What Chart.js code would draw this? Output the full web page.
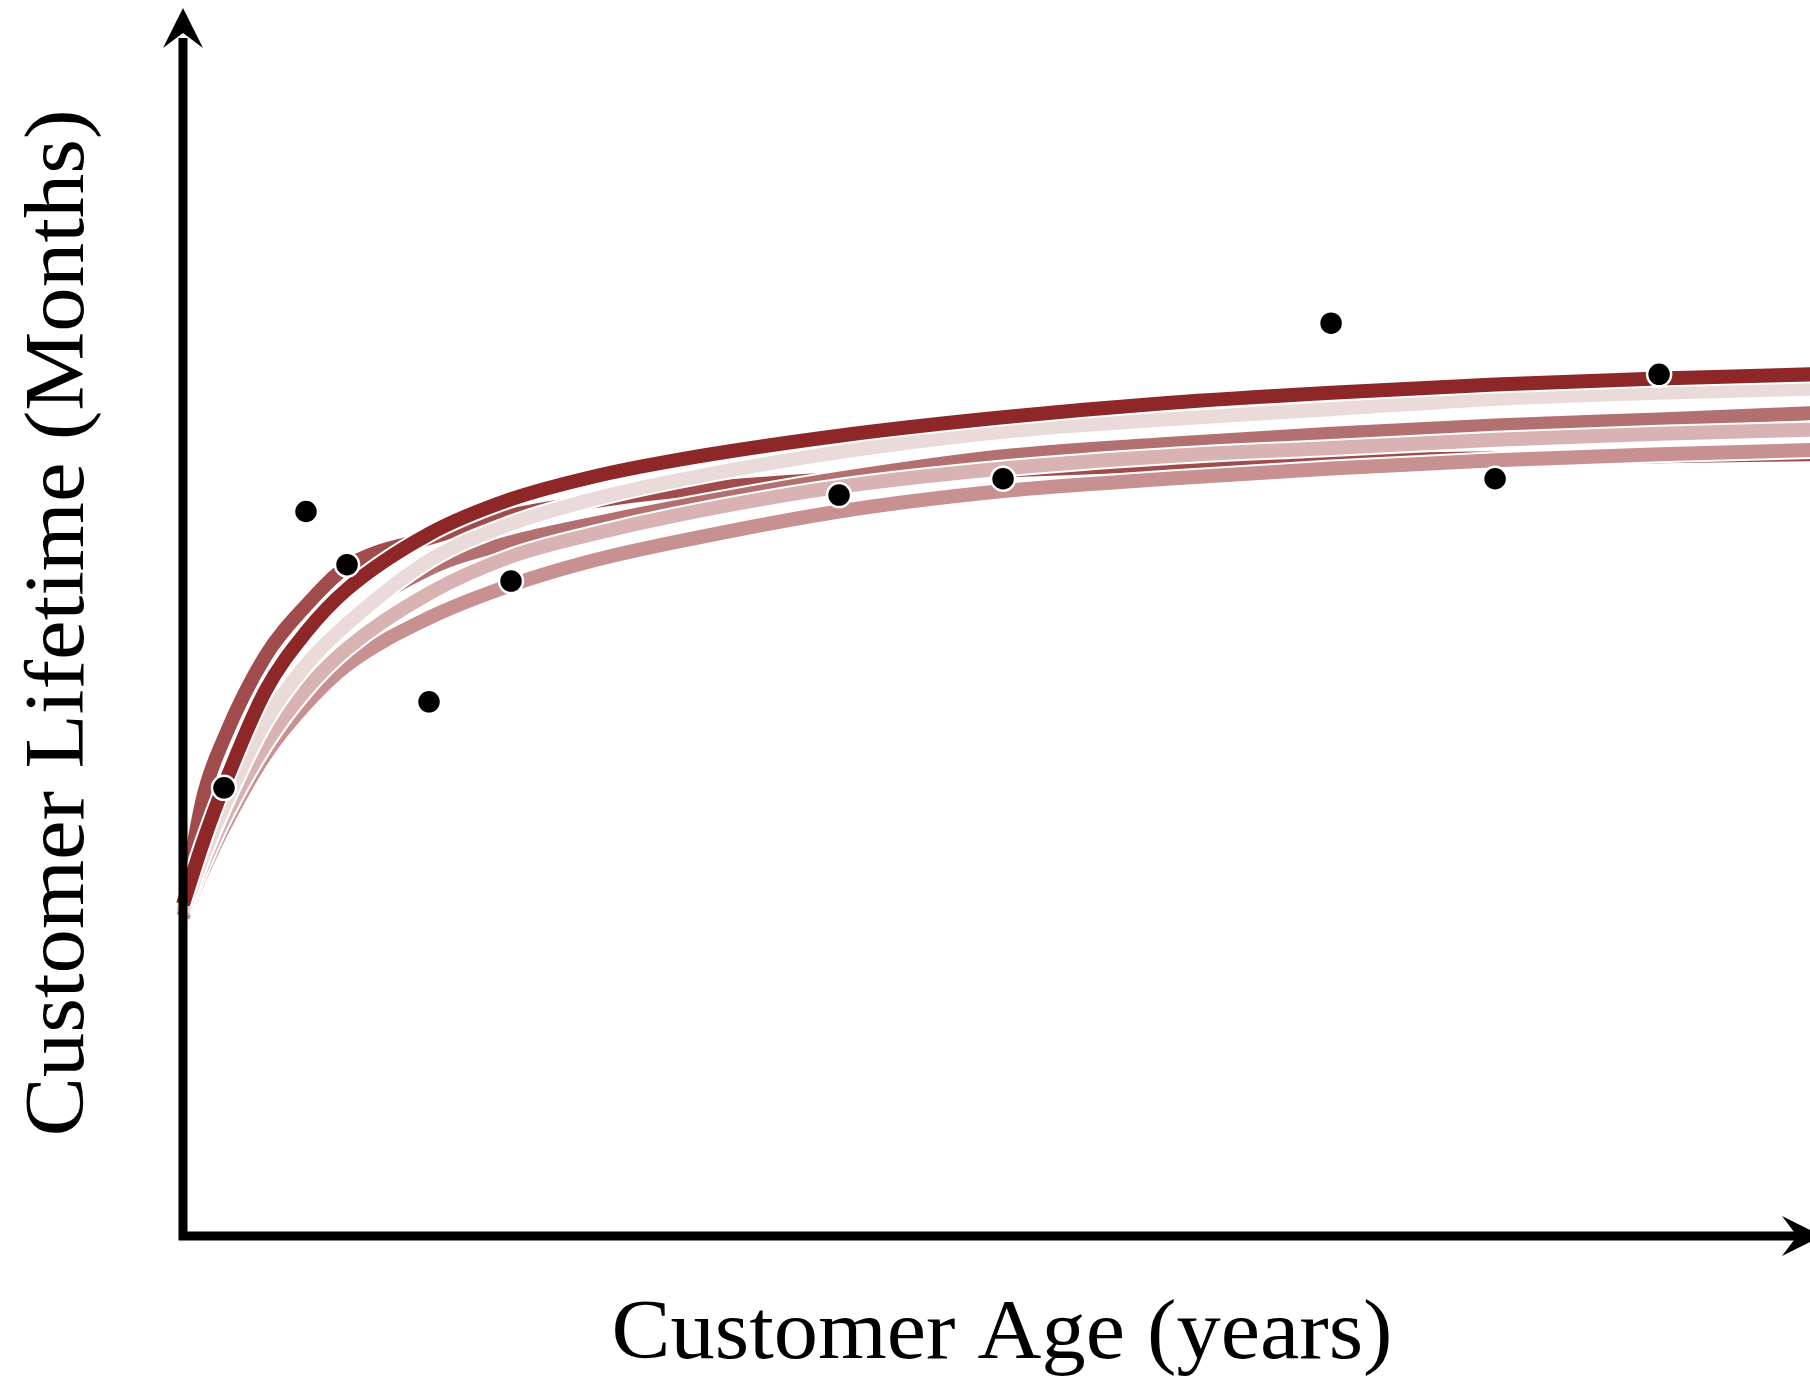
<!DOCTYPE html>
<html lang="en">
<head>
<meta charset="UTF-8">
<title>Customer Lifetime vs Customer Age</title>
<style>
  html, body { margin: 0; padding: 0; background: #fff; }
  #wrap { width: 1810px; height: 1376px; }
</style>
</head>
<body>
<div id="wrap"><canvas id="chart" width="1810" height="1376"></canvas></div>
<script src="https://cdn.jsdelivr.net/npm/chart.js@4"></script>
<script>
  // observed customers
  const ageObs = [0.5, 1.5, 2, 3, 4, 8, 10, 14, 16, 18];
  const lifetimeObs = [21.9, 35.4, 32.8, 26.1, 32.0, 36.2, 37.0, 44.6, 37.0, 42.1];

  const ageGrid = [0, 0.25, 0.5, 1, 1.5, 2, 3, 4, 5, 6, 8, 10, 12, 14, 16, 18, 19.85];
  const fit1 = [16.2, 19.3, 22.0, 26.6, 29.5, 31.6, 34.3, 36.0, 37.1, 37.9, 39.1, 40.0, 40.7, 41.2, 41.6, 41.9, 42.1];
  const fit2 = [16.2, 21.5, 24.3, 28.3, 30.8, 32.7, 34.1, 35.2, 35.9, 36.4, 37.0, 37.4, 37.7, 37.9, 38.0, 38.1, 38.2];
  const fit3 = [15.9, 18.6, 21.0, 25.1, 27.9, 29.9, 33.0, 34.8, 36.0, 36.9, 38.3, 39.3, 39.9, 40.4, 40.9, 41.2, 41.4];
  const fit4 = [15.9, 18.4, 20.7, 24.5, 27.6, 30.0, 32.6, 33.9, 34.8, 35.6, 37.0, 38.1, 38.7, 39.2, 39.6, 39.9, 40.2];
  const fit5 = [15.8, 18.2, 20.4, 24.0, 26.7, 28.7, 31.4, 33.2, 34.3, 35.2, 36.6, 37.5, 38.1, 38.5, 38.9, 39.2, 39.4];
  const fit6 = [15.6, 17.9, 20.0, 23.5, 26.0, 27.9, 30.2, 31.8, 33.0, 33.9, 35.4, 36.4, 37.0, 37.5, 37.9, 38.2, 38.4];

  const fitColors = ['#8e2727', '#a04c4c', '#ebdada', '#b37070', '#d9b3b3', '#c79191'];

  function pts(xs, ys) {
    return xs.map((x, i) => ({ x: x, y: ys[i] }));
  }

  // each curve gets a white halo drawn just beneath it
  function curve(vals, color) {
    const base = {
      data: pts(ageGrid, vals),
      pointRadius: 0,
      fill: false,
      cubicInterpolationMode: 'monotone',
      clip: false
    };
    return [
      Object.assign({}, base, { borderColor: color, borderWidth: 14 }),
      Object.assign({}, base, { borderColor: '#ffffff', borderWidth: 18 })
    ];
  }

  // first dataset is drawn on top
  const datasets = [
    {
      data: pts(ageObs, lifetimeObs),
      showLine: false,
      pointRadius: 12,
      pointBackgroundColor: '#000',
      pointBorderColor: '#fff',
      pointBorderWidth: 2.5
    },
    ...curve(fit1, fitColors[0]),
    ...curve(fit3, fitColors[2]),
    ...curve(fit5, fitColors[4]),
    ...curve(fit6, fitColors[5]),
    ...curve(fit4, fitColors[3]),
    ...curve(fit2, fitColors[1])
  ];

  function fitText(ctx, text, x, y, width) {
    const w = ctx.measureText(text).width;
    ctx.save();
    ctx.translate(x, y);
    ctx.scale(width / w, 1);
    ctx.fillText(text, 0, 0);
    ctx.restore();
  }

  function arrowHead(ctx, tipX, tipY, dirX, dirY) {
    const len = 40, half = 20, notch = 15;
    const px = -dirY, py = dirX;
    ctx.beginPath();
    ctx.moveTo(tipX, tipY);
    ctx.lineTo(tipX - dirX * len + px * half, tipY - dirY * len + py * half);
    ctx.lineTo(tipX - dirX * (len - notch), tipY - dirY * (len - notch));
    ctx.lineTo(tipX - dirX * len - px * half, tipY - dirY * len - py * half);
    ctx.closePath();
    ctx.fill();
  }

  const axesPlugin = {
    id: 'axes',
    afterDraw(chart) {
      const ctx = chart.ctx;
      const a = chart.chartArea;
      ctx.save();
      ctx.strokeStyle = '#000';
      ctx.fillStyle = '#000';
      ctx.lineWidth = 9;
      ctx.lineCap = 'butt';
      ctx.beginPath();
      ctx.moveTo(a.left, a.bottom + 4.5);
      ctx.lineTo(a.left, a.top + 30);
      ctx.moveTo(a.left - 4.5, a.bottom);
      ctx.lineTo(a.right - 5, a.bottom);
      ctx.stroke();
      arrowHead(ctx, a.left, a.top, 0, -1);
      arrowHead(ctx, a.right + 12, a.bottom, 1, 0);

      ctx.font = '84px "Liberation Serif", "DejaVu Serif", serif';
      ctx.textAlign = 'center';
      ctx.textBaseline = 'alphabetic';
      fitText(ctx, 'Customer Age (years)', 1002, 1358, 781);
      ctx.save();
      ctx.translate(83, 623);
      ctx.rotate(-Math.PI / 2);
      fitText(ctx, 'Customer Lifetime (Months)', 0, 0, 1027);
      ctx.restore();
      ctx.restore();
    }
  };

  new Chart(document.getElementById('chart'), {
    type: 'line',
    data: { datasets: datasets },
    options: {
      responsive: false,
      animation: false,
      devicePixelRatio: 1,
      layout: { autoPadding: false, padding: { left: 183, right: 0, top: 8, bottom: 140 } },
      plugins: { legend: { display: false }, tooltip: { enabled: false } },
      scales: {
        x: { type: 'linear', min: 0, max: 19.84, display: false },
        y: { type: 'linear', min: 0, max: 60, display: false }
      }
    },
    plugins: [axesPlugin]
  });
</script>
</body>
</html>
